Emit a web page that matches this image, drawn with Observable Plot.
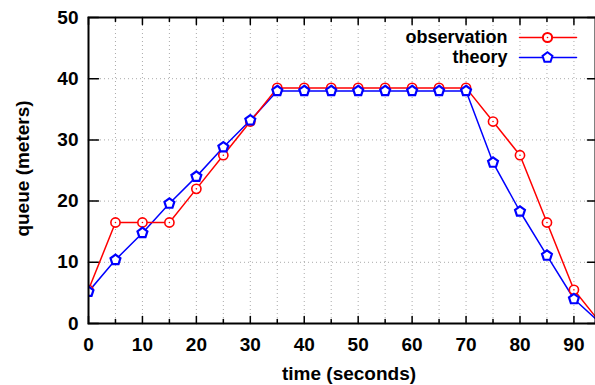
<!DOCTYPE html>
<html>
<head>
<meta charset="utf-8">
<script src="https://cdn.jsdelivr.net/npm/d3@7"></script>
<script src="https://cdn.jsdelivr.net/npm/@observablehq/plot@0.6"></script>
<style>
  html, body { margin: 0; padding: 0; background: #fff; }
</style>
</head>
<body>
<div id="chart"></div>
<script>
const time = [0, 5, 10, 15, 20, 25, 30, 35, 40, 45, 50, 55, 60, 65, 70, 75, 80, 85, 90, 95];
const observation = [5.5, 16.5, 16.5, 16.5, 22, 27.5, 33, 38.5, 38.5, 38.5, 38.5, 38.5, 38.5, 38.5, 38.5, 33, 27.5, 16.5, 5.5, 0];
const theory = [5.2, 10.4, 14.8, 19.6, 24, 28.8, 33.2, 38, 38, 38, 38, 38, 38, 38, 38, 26.3, 18.3, 11.1, 4, 0];
const xTicks = [0, 10, 20, 30, 40, 50, 60, 70, 80, 90];
const xMinor = [5, 15, 25, 35, 45, 55, 65, 75, 85];
const xGrid = [5, 10, 15, 20, 25, 30, 35, 40, 45, 50, 55, 60, 65, 70, 75, 80, 85, 90];
const yTicks = [0, 10, 20, 30, 40, 50];
const yGrid = [10, 20, 30, 40];

const obsData = time.map((t, i) => ({t, v: observation[i]}));
const thData = time.map((t, i) => ({t, v: theory[i]}));

const pentagon = {
  draw(ctx, size) {
    const r = Math.sqrt(size / Math.PI);
    for (let i = 0; i < 5; i++) {
      const a = -Math.PI / 2 + i * 2 * Math.PI / 5;
      const x = r * Math.cos(a), y = r * Math.sin(a);
      if (i === 0) ctx.moveTo(x, y); else ctx.lineTo(x, y);
    }
    ctx.closePath();
  }
};
const tickShape = {
  draw(ctx, l) { ctx.moveTo(0, 0); ctx.lineTo(0, -l); }
};

const font = "'Liberation Sans', Arial, Helvetica, sans-serif";
const RED = "#ff0000", BLUE = "#0000ff";

const series = [
  {name: "observation", color: RED, symbol: "circle", r: 4.6, dy: 20, dot: true},
  {name: "theory", color: BLUE, symbol: pentagon, r: 5.2, dy: 40, dot: false}
];

const legendMarks = series.flatMap(s => {
  const m = [
    Plot.text([s.name], {frameAnchor: "top-right", dx: -88, dy: s.dy, text: d => d, textAnchor: "end", lineAnchor: "middle", fontSize: 18, fontWeight: "bold", fill: "black"}),
    Plot.vector([0], {frameAnchor: "top-right", dx: -76, dy: s.dy, rotate: 90, length: 57, anchor: "start", shape: tickShape, stroke: s.color, strokeWidth: 1.5}),
    Plot.dot([0], {frameAnchor: "top-right", dx: -48, dy: s.dy, r: s.r, symbol: s.symbol, stroke: s.color, fill: "white", strokeWidth: 2})
  ];
  if (s.dot) m.push(Plot.dot([0], {frameAnchor: "top-right", dx: -48, dy: s.dy, r: 0.8, fill: s.color}));
  return m;
});

const chart = Plot.plot({
  width: 595,
  height: 385,
  marginLeft: 88,
  marginRight: 0,
  marginTop: 17,
  marginBottom: 62,
  style: {fontFamily: font, fontSize: "19px", fontWeight: "bold", background: "white"},
  x: {domain: [0, 94]},
  y: {domain: [0, 50]},
  marks: [
    Plot.ruleX(xGrid, {stroke: "#aaa", strokeDasharray: "1,3", strokeWidth: 1}),
    Plot.ruleY(yGrid, {stroke: "#aaa", strokeDasharray: "1,3", strokeWidth: 1}),
    Plot.vector(xTicks, {x: d => d, y: 0, length: 7, rotate: 0, anchor: "start", shape: tickShape, stroke: "black", strokeWidth: 1.5}),
    Plot.vector(xMinor, {x: d => d, y: 0, length: 4, rotate: 0, anchor: "start", shape: tickShape, stroke: "black", strokeWidth: 1.5}),
    Plot.vector(xTicks, {x: d => d, y: 50, length: 7, rotate: 180, anchor: "start", shape: tickShape, stroke: "black", strokeWidth: 1.5}),
    Plot.vector(xMinor, {x: d => d, y: 50, length: 4, rotate: 180, anchor: "start", shape: tickShape, stroke: "black", strokeWidth: 1.5}),
    Plot.vector(yTicks, {x: 0, y: d => d, length: 10, rotate: 90, anchor: "start", shape: tickShape, stroke: "black", strokeWidth: 1.5}),
    Plot.vector(yTicks, {x: 94, y: d => d, length: 8, rotate: 270, anchor: "start", shape: tickShape, stroke: "black", strokeWidth: 1.5, clip: false}),
    Plot.axisX({ticks: xTicks, tickSize: 0, tickPadding: 14, label: null, fontSize: 19}),
    Plot.axisY({ticks: yTicks, tickSize: 0, tickPadding: 10, label: null, fontSize: 19}),
    Plot.line(thData, {x: "t", y: "v", stroke: BLUE, strokeWidth: 1.5, clip: true}),
    Plot.line(obsData, {x: "t", y: "v", stroke: RED, strokeWidth: 1.5, clip: true}),
    Plot.dot(obsData, {x: "t", y: "v", r: 4.6, stroke: RED, fill: "white", strokeWidth: 1.6, clip: true}),
    Plot.dot(obsData, {x: "t", y: "v", r: 0.8, fill: RED, clip: true}),
    Plot.dot(thData, {x: "t", y: "v", r: 5.2, symbol: pentagon, stroke: BLUE, fill: "white", strokeWidth: 2.2, clip: true}),
    Plot.frame({stroke: "black", strokeWidth: 2}),
    ...legendMarks,
    Plot.text(["time (seconds)"], {frameAnchor: "bottom", dx: 7, dy: 50, text: d => d, fontSize: 19, fontWeight: "bold", lineAnchor: "middle", textAnchor: "middle"}),
    Plot.text(["queue (meters)"], {frameAnchor: "left", dx: -66, dy: -2, text: d => d, rotate: -90, fontSize: 19, fontWeight: "bold", lineAnchor: "middle", textAnchor: "middle"})
  ]
});
document.getElementById("chart").appendChild(chart);
</script>
</body>
</html>
